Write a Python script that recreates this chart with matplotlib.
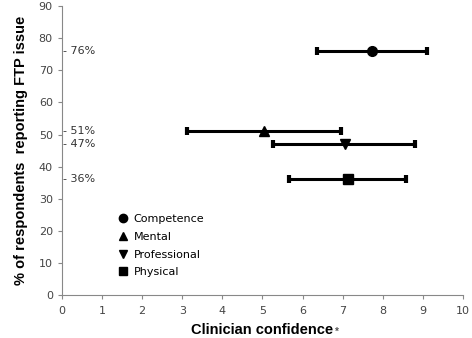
import matplotlib
matplotlib.use("Agg")
import matplotlib.pyplot as plt
from matplotlib.lines import Line2D

categories = ["Competence", "Mental", "Professional", "Physical"]
pct_reporting = [76, 51, 47, 36]
confidence_mean = [7.73, 5.04, 7.06, 7.13]
ci_low = [6.36, 3.12, 5.26, 5.66]
ci_high = [9.10, 6.96, 8.80, 8.58]
pct_labels = ["76%", "51%", "47%", "36%"]
markers = ["o", "^", "v", "s"]

fig = plt.figure(figsize=(4.72, 3.38), dpi=100)
ax = fig.add_axes([0.131, 0.127, 0.850, 0.855])

for cat, y, m, lo, hi, mk in zip(categories, pct_reporting, confidence_mean, ci_low, ci_high, markers):
    ax.errorbar(m, y, xerr=[[m - lo], [hi - m]], fmt=mk, color="black", ecolor="black",
                elinewidth=2.2, capsize=3, capthick=3, markersize=7, label=cat)

for y, lab in zip(pct_reporting, pct_labels):
    ax.text(0.02, y, "- " + lab, fontsize=8, color="#333333", va="center", ha="left",
            family="DejaVu Sans")

ax.set_xlim(0, 10)
ax.set_ylim(0, 90)
ax.set_xticks(range(0, 11))
ax.set_yticks(range(0, 91, 10))
for s in ["top", "right"]:
    ax.spines[s].set_visible(False)
for s in ["left", "bottom"]:
    ax.spines[s].set_color("#888888")
    ax.spines[s].set_linewidth(0.8)
ax.tick_params(axis="both", labelsize=8, colors="#888888", labelcolor="#444444", length=3, width=0.8)
ax.tick_params(axis="x", pad=5)

ax.set_xlabel("Clinician confidence", fontsize=10.5, fontweight="bold", family="Liberation Sans",
              labelpad=5)
fig.canvas.draw()
xl = ax.xaxis.label
bb = xl.get_window_extent()
fig.text(bb.x1 / fig.bbox.width + 0.003, (bb.y0 + bb.y1) / 2 / fig.bbox.height - 0.004, "*",
         fontsize=7, family="Liberation Sans", fontweight="bold", ha="left", va="center",
         color="#555555")
ax.set_ylabel("% of respondents  reporting FTP issue", fontsize=10.5, fontweight="bold",
              family="Liberation Sans", labelpad=8)

handles = [Line2D([], [], marker=mk, color="black", linestyle="none", markersize=6) for mk in markers]
ax.legend(handles, categories, loc="upper left", bbox_to_anchor=(0.11, 0.315), frameon=False,
          handletextpad=0.4, labelspacing=0.7, handlelength=1.2,
          prop={"family": "DejaVu Sans", "size": 8})

fig.savefig("out.png", dpi=100)
